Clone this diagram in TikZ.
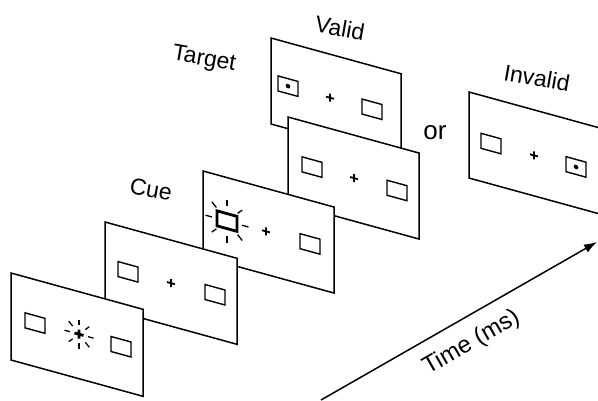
\documentclass[tikz,border=0pt]{standalone}
\usepackage{fontspec}
\setmainfont{Liberation Sans}
\usetikzlibrary{arrows.meta}

\begin{document}
\begin{tikzpicture}[x=1pt,y=-1pt,
	scr/.style={draw,fill=white,line width=1.5pt},
	sq/.style={draw,line width=1.4pt},
	fixc/.style={line width=1.8pt},
	ray/.style={line width=1.3pt},
	lab/.style={font=\fontsize{23}{27}\selectfont,rotate=-10}]
\useasboundingbox (0,0) rectangle (598,400);
% valid target screen, furthest back
\begin{scope}[shift={(271,38)},yslant=-0.275]
\draw[scr] (0,0) rectangle (130,86) ; % Screen.5
\draw[sq] (7,36) rectangle (27,51) ; % Box.left
\fill (17,43.5) circle (2.3) ; % Target.dot
\draw[fixc] (55,43.5) -- (63,43.5) (59,39.5) -- (59,47.5) ; % Fix
\draw[sq] (91,36) rectangle (111,51) ; % Box.right
\end{scope}
% interval screen
\begin{scope}[shift={(288,117)},yslant=-0.275]
\draw[scr] (0,0) rectangle (131,86) ; % Screen.4
\draw[sq] (14,36) rectangle (34,51) ; % Box.left
\draw[fixc] (62,43) -- (70,43) (66,39) -- (66,47) ; % Fix
\draw[sq] (99,36) rectangle (119,51) ; % Box.right
\end{scope}
% cue screen
\begin{scope}[shift={(203,171)},yslant=-0.275]
\draw[scr] (0,0) rectangle (131,86) ; % Screen.3
\draw[line width=2.8pt] (14,36) rectangle (34,51) ; % Box.cued
\foreach \a in {0,45,...,315}
	\draw[ray] (24,43.5) ++(\a:15) -- ++(\a:6.5) ; % Cue.rays
\draw[fixc] (59,43) -- (67,43) (63,39) -- (63,47) ; % Fix
\draw[sq] (97,36) rectangle (117,51) ; % Box.right
\end{scope}
% fixation screen
\begin{scope}[shift={(105,222)},yslant=-0.275]
\draw[scr] (0,0) rectangle (132,86) ; % Screen.2
\draw[sq] (13,36) rectangle (33,51) ; % Box.left
\draw[fixc] (62,43) -- (70,43) (66,39) -- (66,47) ; % Fix
\draw[sq] (100,35) rectangle (120,50) ; % Box.right
\end{scope}
% first screen, flashing fixation
\begin{scope}[shift={(11,273)},yslant=-0.275]
\draw[scr] (0,0) rectangle (132,87) ; % Screen.1
\draw[sq] (14,36) rectangle (34,51) ; % Box.left
\draw[line width=2.8pt] (63.5,42.5) -- (72.5,42.5) (68,38) -- (68,47) ; % Fix.bold
\foreach \a in {0,45,...,315}
	\draw[ray] (68,42.5) ++(\a:9) -- ++(\a:5.5) ; % Fix.rays
\draw[sq] (100,36) rectangle (120,51) ; % Box.right
\end{scope}
% invalid target screen
\begin{scope}[shift={(469,92)},yslant=-0.275]
\draw[scr] (0,0) rectangle (134,86) ; % Screen.6
\draw[sq] (12,38) rectangle (32,53) ; % Box.left
\draw[fixc] (61,45.5) -- (69,45.5) (65,41.5) -- (65,49.5) ; % Fix
\draw[sq] (97,38) rectangle (117,53) ; % Box.right
\fill (107,45.5) circle (2.3) ; % Target.dot
\end{scope}
% labels
\node[lab] (valid) at (340,28) {Valid};
\node[lab] (target) at (204,60) {Target};
\node[lab] (cue) at (151,189) {Cue};
\node[lab] (invalid) at (537,78) {Invalid};
\node[font=\fontsize{26}{30}\selectfont] (or) at (435,133) {or};
% time axis
\coordinate (t0) at (321,400);
\coordinate (t1) at (597,242);
\draw[line width=1.5pt,-{Latex[length=13pt,width=9pt]}] (t0) -- (t1)
	node[sloped,pos=0.5,below=10pt,font=\fontsize{24}{28}\selectfont] (time) {Time (ms)};
\end{tikzpicture}
\end{document}
